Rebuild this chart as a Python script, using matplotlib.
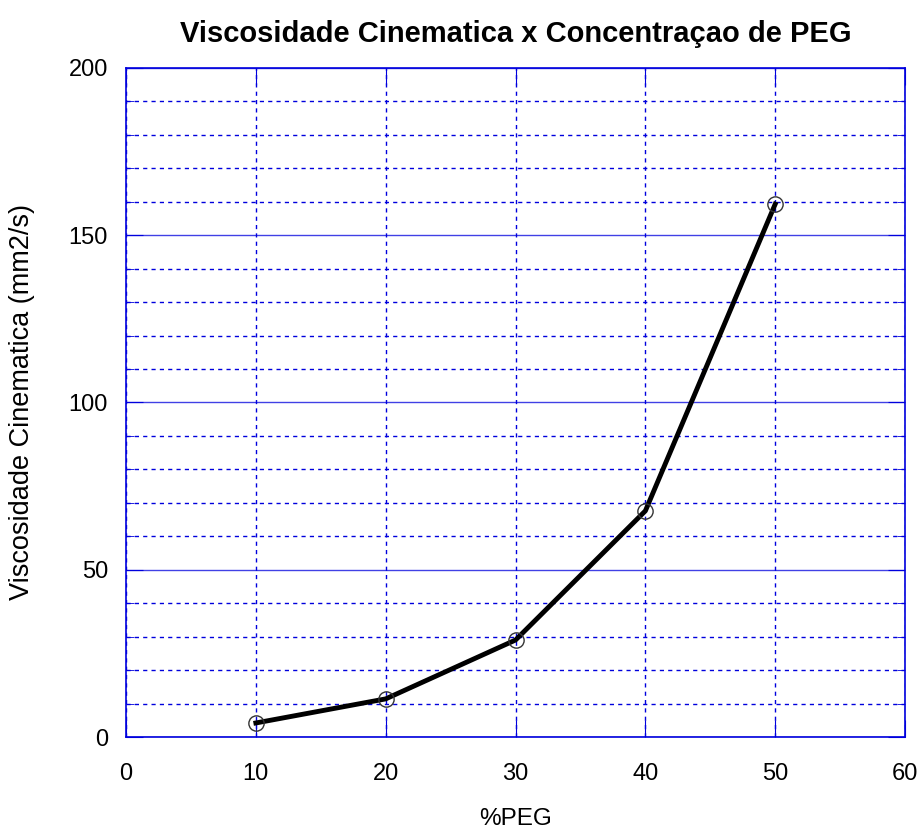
import matplotlib
matplotlib.use("Agg")
import matplotlib.pyplot as plt
from matplotlib.ticker import MultipleLocator

peg = [10, 20, 30, 40, 50]
visc = [4.2, 11.4, 29.0, 67.6, 159.3]

plt.rcParams['font.family'] = ['Liberation Sans', 'DejaVu Sans']

fig = plt.figure(figsize=(9.22, 8.36), dpi=100)
ax = fig.add_axes([0.1367, 0.1184, 0.8449, 0.8003])

ax.set_xlim(0, 60)
ax.set_ylim(0, 200)
ax.xaxis.set_major_locator(MultipleLocator(10))
ax.yaxis.set_major_locator(MultipleLocator(50))
ax.yaxis.set_minor_locator(MultipleLocator(10))

blue = '#0000dd'
ax.grid(True, which='major', axis='y', color=blue, linestyle='-', linewidth=1.0, alpha=0.75)
ax.grid(True, which='minor', axis='y', color=blue, linestyle=(0, (3, 3)), linewidth=1.0)
ax.grid(True, which='major', axis='x', color=blue, linestyle=(0, (3, 3)), linewidth=1.0)

for s in ax.spines.values():
    s.set_color(blue)
    s.set_linewidth(1.2)

ax.tick_params(which='both', direction='in', colors=blue, labelcolor='black',
               top=True, right=True, labelsize=17)
ax.tick_params(axis='x', pad=19)
ax.tick_params(axis='y', pad=13)
ax.tick_params(which='major', length=12)
ax.tick_params(which='minor', length=6)

ax.plot(peg, visc, color='black', linewidth=3.5, zorder=3)
ax.plot(peg, visc, linestyle='none', marker='o', markersize=11,
        markerfacecolor='none', markeredgecolor='#333333', markeredgewidth=1.0, zorder=4)

ax.set_title('Viscosidade Cinematica x Concentraçao de PEG', fontsize=21,
             fontweight='bold', pad=19)
ax.set_xlabel('%PEG', fontsize=17.5, labelpad=16)
ax.set_ylabel('Viscosidade Cinematica (mm2/s)', fontsize=19.5, labelpad=24)

fig.savefig('out.png', dpi=100)
